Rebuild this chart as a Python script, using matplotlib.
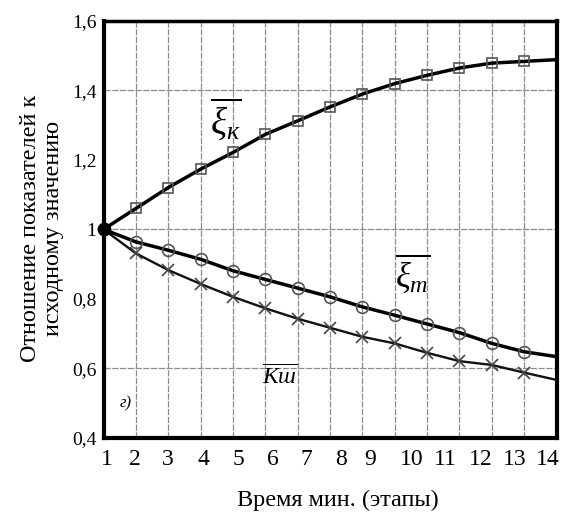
import matplotlib
matplotlib.use("Agg")
import matplotlib.pyplot as plt

plt.rcParams['font.family'] = ['Liberation Serif', 'DejaVu Serif']
plt.rcParams['mathtext.fontset'] = 'custom'
plt.rcParams['mathtext.rm'] = 'Liberation Serif'
plt.rcParams['mathtext.it'] = 'Liberation Serif:italic'

# ---- data ----
stages = [1, 2, 3, 4, 5, 6, 7, 8, 9, 10, 11, 12, 13, 14]
xi_k = [1.0, 1.060, 1.120, 1.173, 1.221, 1.273, 1.312, 1.352, 1.389, 1.419, 1.443, 1.464, 1.478, 1.483]
xi_m = [1.0, 0.964, 0.940, 0.914, 0.881, 0.856, 0.831, 0.806, 0.777, 0.753, 0.728, 0.703, 0.672, 0.648]
k_sh = [1.0, 0.931, 0.883, 0.843, 0.806, 0.773, 0.743, 0.717, 0.691, 0.672, 0.645, 0.621, 0.610, 0.588]
# lines continue to the right border
end_x = 15
xi_k_end = 1.488
xi_m_end = 0.634
k_sh_end = 0.567

x_tick_labels = ['1', '2', '3', '4', '5', '6', '7', '8', '9', '10', '11', '12', '13', '14']
x_tick_pos = [1.1, 1.97, 2.99, 4.1, 5.18, 6.22, 7.28, 8.35, 9.23, 10.53, 11.56, 12.67, 13.72, 14.74]
y_ticks = [0.4, 0.6, 0.8, 1.0, 1.2, 1.4, 1.6]
y_tick_labels = ['0,4', '0,6', '0,8', '1', '1,2', '1,4', '1,6']

fig = plt.figure(figsize=(5.63, 5.17), dpi=100)
ax = fig.add_axes([103.5/563, 1-438/517, (556.5-103.5)/563, (438-20.7)/517])

# grid
for gx in stages[1:]:
    ax.axvline(gx, color='#8c8c8c', lw=0.9, ls=(0, (5, 1.2)), zorder=1)
for gy in [0.6, 1.0, 1.4]:
    ax.axhline(gy, color='#8c8c8c', lw=0.9, ls=(0, (5, 1.2)), zorder=1)

# lines
ax.plot(stages + [end_x], xi_k + [xi_k_end], color='black', lw=2.5, zorder=3)
ax.plot(stages + [end_x], xi_m + [xi_m_end], color='black', lw=2.5, zorder=3)
ax.plot(stages + [end_x], k_sh + [k_sh_end], color='#111111', lw=1.7, zorder=3)

# markers
ax.plot(stages[1:], xi_k[1:], ls='none', marker='s', ms=7.5, mfc='none', mec='#555555', mew=1.2, zorder=4)
ax.plot(stages[1:], xi_m[1:], ls='none', marker='o', ms=8.5, mfc='none', mec='#555555', mew=1.2, zorder=4)
ax.plot(stages[1:], k_sh[1:], ls='none', marker='x', ms=8, mec='#444444', mew=1.2, zorder=4)
ax.plot([stages[0]], [xi_k[0]], ls='none', marker='o', ms=9, color='black', zorder=5, clip_on=False)

ax.set_xlim(1, 15)
ax.set_ylim(0.4, 1.6)
ax.set_xticks(x_tick_pos)
ax.set_xticklabels(x_tick_labels, fontsize=17)
ax.set_yticks(y_ticks)
ax.set_yticklabels(y_tick_labels, fontsize=14)
ax.tick_params(axis='x', length=0, pad=8)
ax.tick_params(axis='y', length=0, pad=5)

for s in ['left', 'bottom', 'right']:
    ax.spines[s].set_linewidth(3.0)
ax.spines['top'].set_linewidth(2.5)

# annotations
ax.text(4.3, 1.318, r'$\overline{\xi_{к}}$', fontsize=27, ha='left', va='center', zorder=6)
ax.text(10.0, 0.875, r'$\overline{\xi_{m}}$', fontsize=25, ha='left', va='center', zorder=6)
ax.text(5.9, 0.575, r'$\overline{Кш}$', fontsize=17, ha='left', va='center', zorder=6)
ax.text(1.5, 0.50, 'г)', fontsize=12, style='italic', ha='left', va='center', zorder=6)

fig.text(42/563, 1-228/517, 'Отношение показателей к\nисходному значению', rotation=90,
         ha='center', va='center', multialignment='center', fontsize=17.5, linespacing=1.13)
fig.text(337.5/563, 1-500/517, 'Время мин. (этапы)', ha='center', va='center', fontsize=17.5)

fig.savefig('out.png', dpi=100)
